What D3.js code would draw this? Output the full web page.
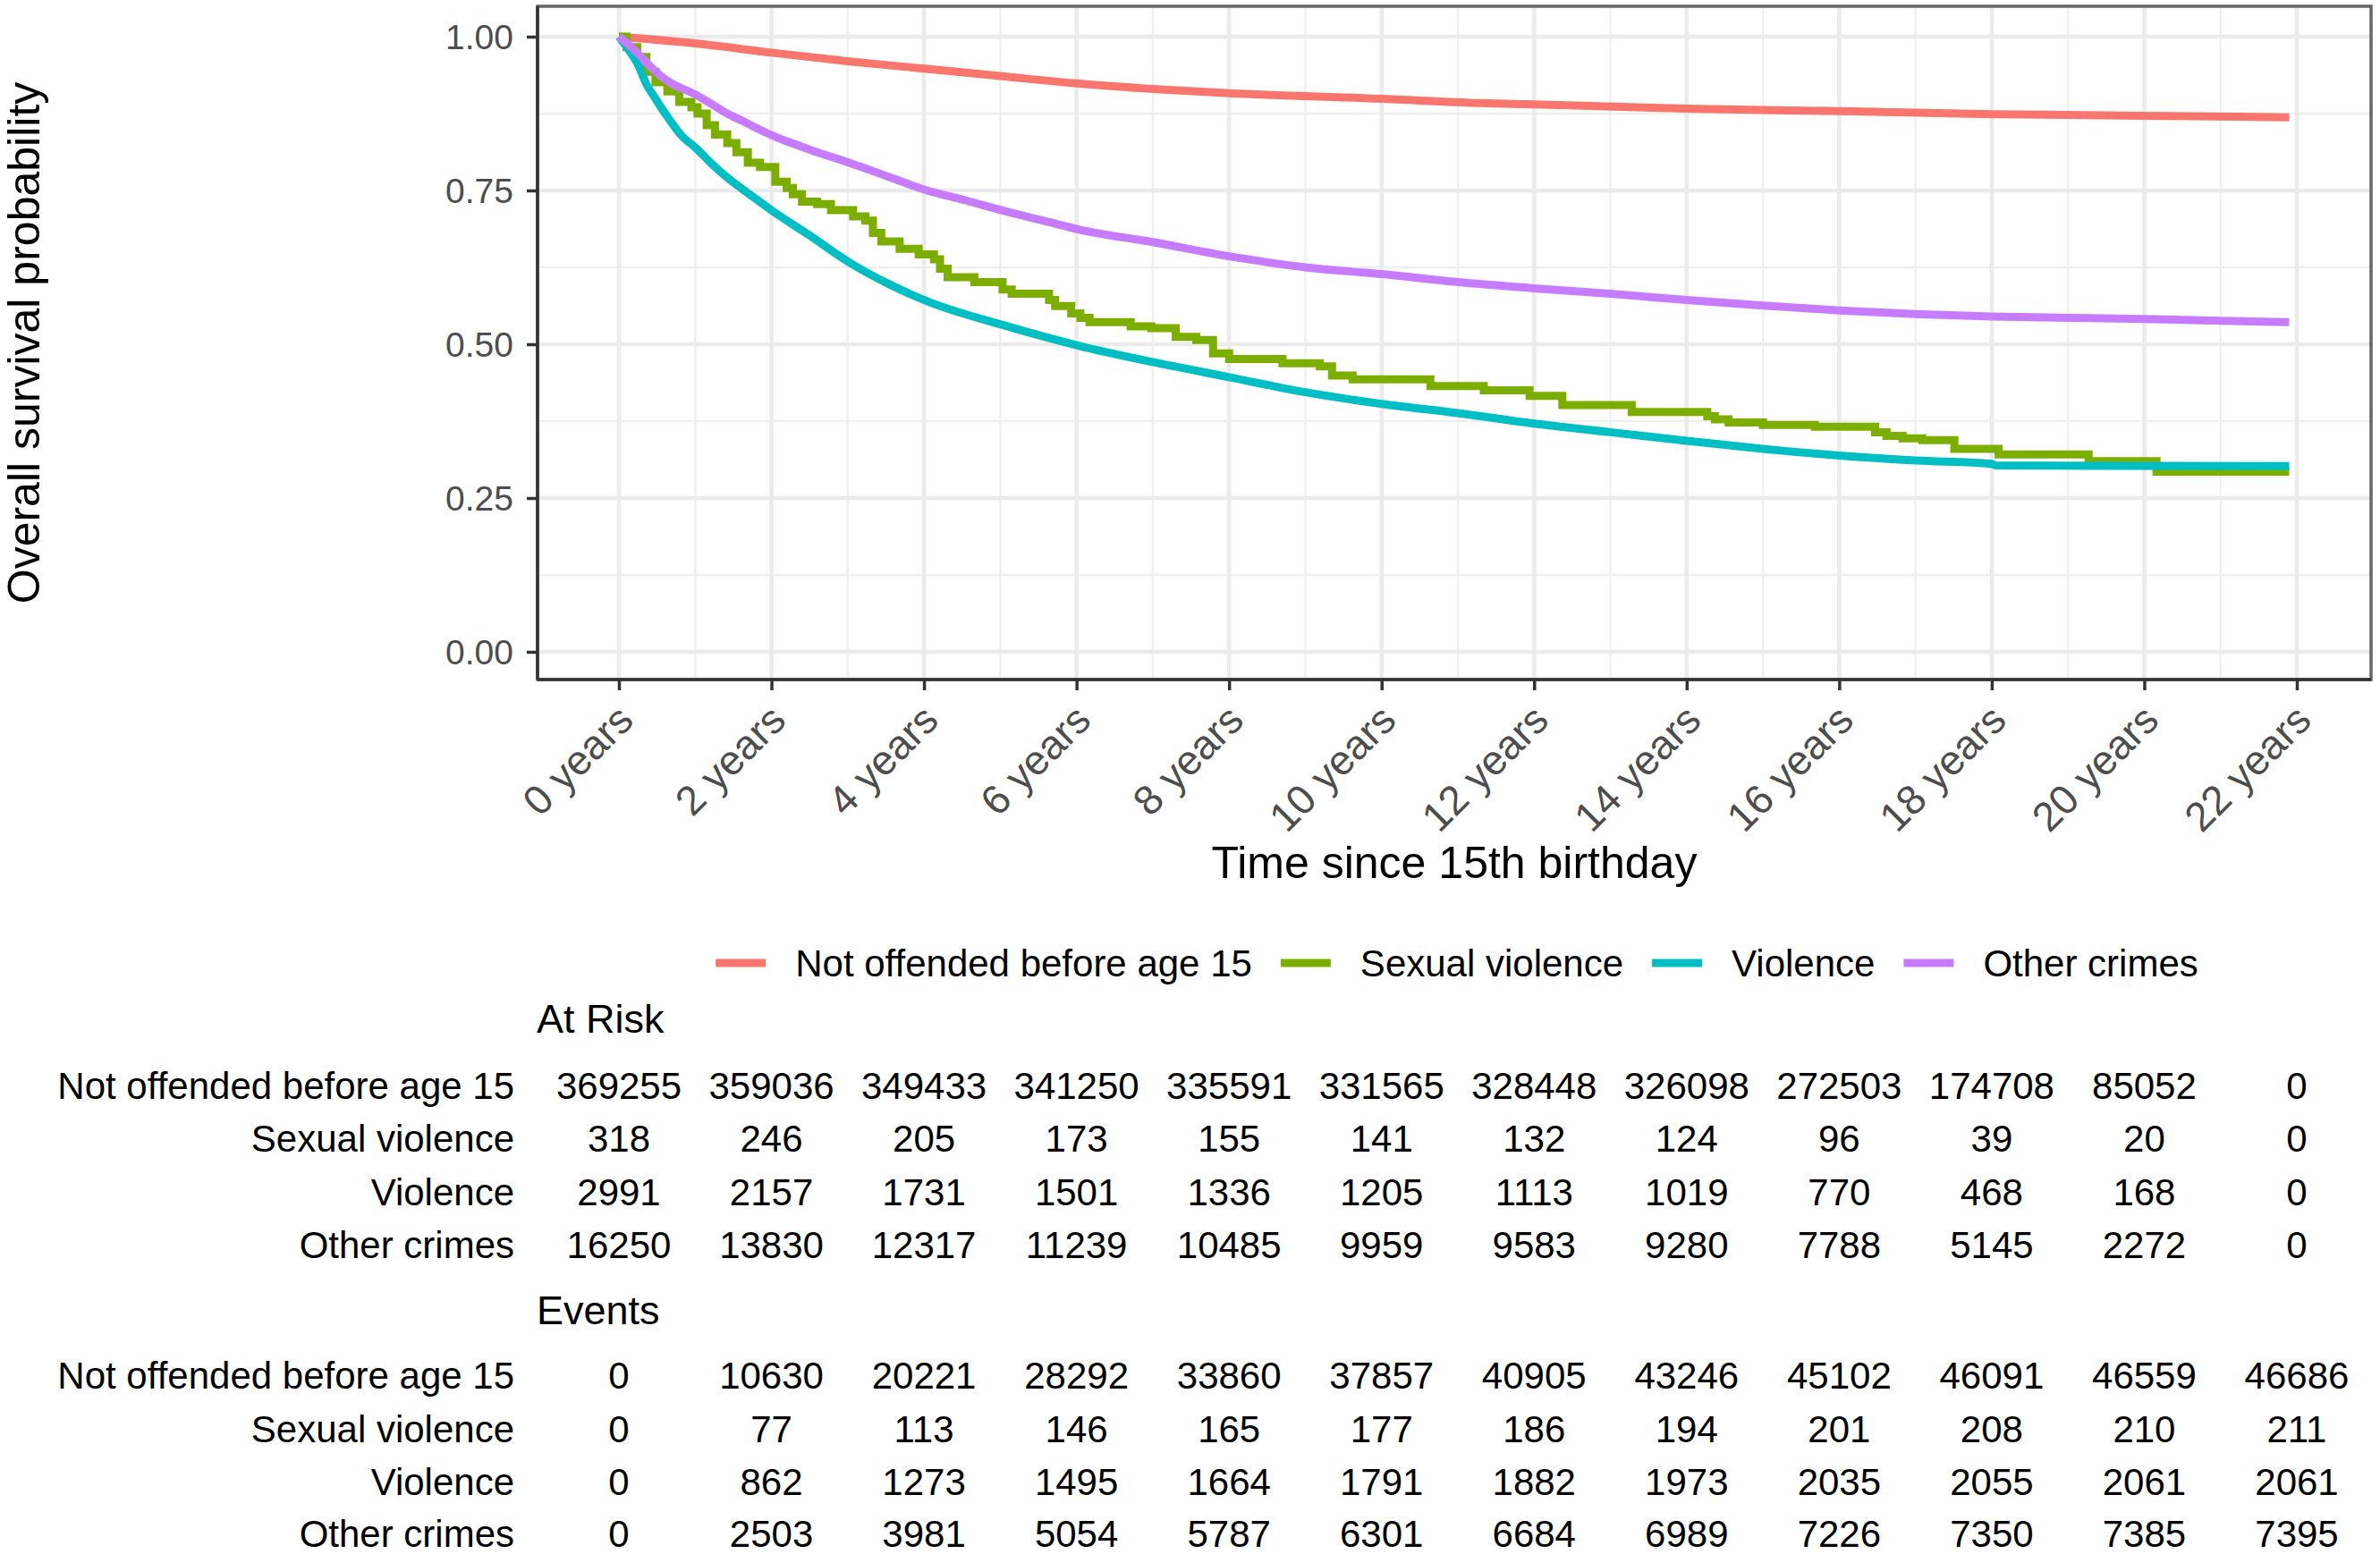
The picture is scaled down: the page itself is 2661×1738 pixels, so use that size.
<!DOCTYPE html>
<html>
<head>
<meta charset="utf-8">
<script src="https://cdn.jsdelivr.net/npm/d3@7/dist/d3.min.js"></script>
<style>
    body { margin: 0; background: #fff; overflow: hidden; }
    svg text { font-family: "Liberation Sans", Arial, sans-serif; }
</style>
</head>
<body>
<svg id="chart" width="2661" height="1738"></svg>
<script>

// DATA ========================================================================

var groups = ['Not offended before age 15', 'Sexual violence', 'Violence', 'Other crimes'];
var groupColors = ['#F8766D', '#7CAE00', '#00BFC4', '#C77CFF'];

// survival curves, [years, probability]
var notOffendedSurv = [[0, 1], [1, 0.989], [2, 0.974], [3, 0.960], [4, 0.948], [5, 0.936],
    [6, 0.924], [7, 0.915], [8, 0.908], [10, 0.899], [11.3, 0.892], [12, 0.890],
    [14, 0.883], [16, 0.879], [18, 0.874], [20, 0.8715], [21.9, 0.869]];

var sexualViolenceSurv = [[0, 1], [0.1, 0.983], [0.24, 0.967], [0.36, 0.943], [0.48, 0.926],
    [0.635, 0.911], [0.79, 0.894], [0.95, 0.885], [1.03, 0.875], [1.15, 0.856],
    [1.26, 0.841], [1.42, 0.827], [1.54, 0.812], [1.69, 0.795], [1.85, 0.788],
    [2.05, 0.764], [2.2, 0.754], [2.28, 0.744], [2.4, 0.732], [2.6, 0.728], [2.78, 0.718],
    [3.07, 0.708], [3.23, 0.701], [3.33, 0.681], [3.44, 0.667], [3.68, 0.655], [3.93, 0.646],
    [4.13, 0.638], [4.21, 0.623], [4.31, 0.609], [4.66, 0.601], [5.03, 0.589], [5.15, 0.582],
    [5.64, 0.572], [5.72, 0.562], [5.93, 0.550], [6.05, 0.543], [6.17, 0.536], [6.71, 0.529],
    [6.98, 0.526], [7.30, 0.512], [7.57, 0.507], [7.79, 0.485], [8.0, 0.476], [8.70, 0.469],
    [9.19, 0.464], [9.35, 0.449], [9.62, 0.443], [10.64, 0.432], [11.34, 0.425],
    [11.94, 0.416], [12.37, 0.401], [13.28, 0.390], [14.27, 0.383], [14.37, 0.378],
    [14.55, 0.373], [15.0, 0.369], [15.68, 0.366], [16.47, 0.357], [16.62, 0.351],
    [16.83, 0.347], [17.09, 0.344], [17.51, 0.330], [18.09, 0.321], [19.27, 0.310],
    [20.16, 0.293], [21.9, 0.293]];

var violenceSurv = [[0, 1], [0.125, 0.979], [0.24, 0.957], [0.36, 0.923], [0.48, 0.899],
    [0.635, 0.870], [0.83, 0.838], [1.0, 0.820], [1.22, 0.793], [1.42, 0.771],
    [1.62, 0.752], [1.81, 0.735], [2.02, 0.716], [2.5, 0.677], [3.02, 0.633], [3.52, 0.599],
    [4.04, 0.570], [5.04, 0.531], [6.05, 0.497], [7, 0.471], [8, 0.4465], [9, 0.422],
    [10, 0.403], [11, 0.388], [12, 0.371], [13, 0.357], [14, 0.343], [15, 0.330],
    [16, 0.319], [17, 0.311], [18, 0.3055], [18.05, 0.303], [21.9, 0.302]];

var otherCrimesSurv = [[0, 1], [0.24, 0.974], [0.44, 0.948], [0.635, 0.928], [1.0, 0.906],
    [1.22, 0.890], [1.42, 0.875], [1.62, 0.863], [1.81, 0.851], [2.0, 0.840], [2.2, 0.830],
    [2.4, 0.821], [2.6, 0.812], [3.02, 0.795], [3.52, 0.773], [4.04, 0.750],
    [4.54, 0.734], [5.04, 0.717], [5.56, 0.701], [6.05, 0.686], [7, 0.666], [8, 0.643],
    [9, 0.625], [10, 0.614], [11, 0.601], [12, 0.591], [13, 0.582], [14, 0.572],
    [15, 0.563], [16, 0.555], [17, 0.549], [18, 0.545], [19, 0.543], [20, 0.541],
    [21, 0.538], [21.9, 0.536]];

var curves = [notOffendedSurv, sexualViolenceSurv, violenceSurv, otherCrimesSurv];

var yearTicks = [0, 2, 4, 6, 8, 10, 12, 14, 16, 18, 20, 22];
var yearLabels = ['0 years', '2 years', '4 years', '6 years', '8 years', '10 years',
    '12 years', '14 years', '16 years', '18 years', '20 years', '22 years'];
var yearMinor = [1, 3, 5, 7, 9, 11, 13, 15, 17, 19, 21];
var probTicks = [0, 0.25, 0.5, 0.75, 1];
var probLabels = ['0.00', '0.25', '0.50', '0.75', '1.00'];
var probMinor = [0.125, 0.375, 0.625, 0.875];

// risk table, one value per year tick
var atRisk = [
    [369255, 359036, 349433, 341250, 335591, 331565, 328448, 326098, 272503, 174708, 85052, 0],
    [318, 246, 205, 173, 155, 141, 132, 124, 96, 39, 20, 0],
    [2991, 2157, 1731, 1501, 1336, 1205, 1113, 1019, 770, 468, 168, 0],
    [16250, 13830, 12317, 11239, 10485, 9959, 9583, 9280, 7788, 5145, 2272, 0]];
var events = [
    [0, 10630, 20221, 28292, 33860, 37857, 40905, 43246, 45102, 46091, 46559, 46686],
    [0, 77, 113, 146, 165, 177, 186, 194, 201, 208, 210, 211],
    [0, 862, 1273, 1495, 1664, 1791, 1882, 1973, 2035, 2055, 2061, 2061],
    [0, 2503, 3981, 5054, 5787, 6301, 6684, 6989, 7226, 7350, 7385, 7395]];


// PLOT ========================================================================

var svg = d3.select('#chart'),
    panel = {left: 601, right: 2651, top: 7, bottom: 760};

var x = d3.scaleLinear().domain([0, 22]).range([692, 2568]),
    y = d3.scaleLinear().domain([0, 1]).range([729, 41]);

svg.append('rect')
    .attr('width', 2661).attr('height', 1738).attr('fill', '#fff');

var grid = svg.append('g');

grid.selectAll('.vminor').data(yearMinor).enter().append('line')
    .attr('x1', function(d) { return x(d); }).attr('x2', function(d) { return x(d); })
    .attr('y1', panel.top).attr('y2', panel.bottom)
    .attr('stroke', '#EFEFEF').attr('stroke-width', 2.3);
grid.selectAll('.hminor').data(probMinor).enter().append('line')
    .attr('y1', function(d) { return y(d); }).attr('y2', function(d) { return y(d); })
    .attr('x1', panel.left).attr('x2', panel.right)
    .attr('stroke', '#EFEFEF').attr('stroke-width', 2.3);
grid.selectAll('.vmajor').data(yearTicks).enter().append('line')
    .attr('x1', function(d) { return x(d); }).attr('x2', function(d) { return x(d); })
    .attr('y1', panel.top).attr('y2', panel.bottom)
    .attr('stroke', '#EBEBEB').attr('stroke-width', 4.5);
grid.selectAll('.hmajor').data(probTicks).enter().append('line')
    .attr('y1', function(d) { return y(d); }).attr('y2', function(d) { return y(d); })
    .attr('x1', panel.left).attr('x2', panel.right)
    .attr('stroke', '#EBEBEB').attr('stroke-width', 4.5);

var stepLine = d3.line()
    .x(function(d) { return x(d[0]); })
    .y(function(d) { return y(d[1]); })
    .curve(d3.curveStepAfter);
var smoothLine = d3.line()
    .x(function(d) { return x(d[0]); })
    .y(function(d) { return y(d[1]); })
    .curve(d3.curveMonotoneX);

svg.append('g').selectAll('path')
    .data(curves)
    .enter().append('path')
        .attr('d', function(d, i) { return i === 1 ? stepLine(d) : smoothLine(d); })
        .attr('fill', 'none')
        .attr('stroke', function(d, i) { return groupColors[i]; })
        .attr('stroke-width', 9)
        .attr('stroke-linejoin', 'miter');

// panel border
svg.append('rect')
    .attr('x', panel.left).attr('y', panel.top)
    .attr('width', panel.right - panel.left).attr('height', panel.bottom - panel.top)
    .attr('fill', 'none').attr('stroke', '#666').attr('stroke-width', 3.5);

// AXES ========================================================================

var xAxis = svg.append('g')
    .attr('transform', 'translate(0,' + panel.bottom + ')')
    .call(d3.axisBottom(x).tickValues(yearTicks).tickSize(12)
        .tickFormat(function(d, i) { return yearLabels[i]; }));
xAxis.select('.domain')
    .attr('d', 'M' + panel.left + ',0H' + panel.right)
    .attr('stroke', '#333').attr('stroke-width', 3.5);
xAxis.selectAll('.tick line').attr('stroke', '#333').attr('stroke-width', 3.5);
xAxis.selectAll('.tick text')
    .attr('x', 0).attr('y', 0).attr('dy', null)
    .attr('transform', 'translate(18,48) rotate(-45)')
    .attr('text-anchor', 'end')
    .attr('font-size', 46)
    .attr('font-family', '"Liberation Sans", Arial, sans-serif')
    .attr('fill', '#4D4D4D');

var yAxis = svg.append('g')
    .attr('transform', 'translate(' + panel.left + ',0)')
    .call(d3.axisLeft(y).tickValues(probTicks).tickSize(12).tickPadding(15)
        .tickFormat(function(d, i) { return probLabels[i]; }));
yAxis.select('.domain')
    .attr('d', 'M0,' + panel.top + 'V' + panel.bottom)
    .attr('stroke', '#333').attr('stroke-width', 3.5);
yAxis.selectAll('.tick line').attr('stroke', '#333').attr('stroke-width', 3.5);
yAxis.selectAll('.tick text')
    .attr('dy', '0.35em')
    .attr('font-size', 39)
    .attr('font-family', '"Liberation Sans", Arial, sans-serif')
    .attr('fill', '#4D4D4D');

svg.append('text')
    .attr('transform', 'translate(44,' + ((panel.top + panel.bottom) / 2) + ') rotate(-90)')
    .attr('text-anchor', 'middle')
    .attr('font-size', 50)
    .text('Overall survival probability');

svg.append('text')
    .attr('x', (panel.left + panel.right) / 2).attr('y', 982)
    .attr('text-anchor', 'middle')
    .attr('font-size', 50)
    .text('Time since 15th birthday');

// LEGEND ======================================================================

var legend = svg.append('g'),
    keyLen = 56, keyGap = 33, itemGap = 32, cursor = 0;

var items = legend.selectAll('.item').data(groups).enter().append('g');
items.append('line')
    .attr('x1', 0).attr('x2', keyLen).attr('y1', 1077).attr('y2', 1077)
    .attr('stroke', function(d, i) { return groupColors[i]; })
    .attr('stroke-width', 9);
items.append('text')
    .attr('x', keyLen + keyGap).attr('y', 1077).attr('dy', '0.35em')
    .attr('font-size', 42)
    .text(function(d) { return d; });

items.each(function() {
    var g = d3.select(this),
        w = g.select('text').node().getComputedTextLength();
    g.attr('transform', 'translate(' + cursor + ',0)');
    cursor += keyLen + keyGap + w + itemGap;
});
cursor -= itemGap;
legend.attr('transform', 'translate(' + ((panel.left + panel.right) / 2 - cursor / 2 + 3) + ',0)');

// RISK TABLE ==================================================================

function drawTable(title, titleY, rows, rowYs) {
    svg.append('text')
        .attr('x', panel.left - 1).attr('y', titleY).attr('dy', '0.35em')
        .attr('font-size', 45)
        .text(title);

    rows.forEach(function(row, r) {
        svg.append('text')
            .attr('x', 575).attr('y', rowYs[r]).attr('dy', '0.35em')
            .attr('text-anchor', 'end')
            .attr('font-size', 42)
            .text(groups[r]);

        svg.append('g').selectAll('text')
            .data(row)
            .enter().append('text')
                .attr('x', function(d, i) { return x(yearTicks[i]); })
                .attr('y', rowYs[r]).attr('dy', '0.35em')
                .attr('text-anchor', 'middle')
                .attr('font-size', 42)
                .text(function(d) { return d; });
    });
}

drawTable('At Risk', 1139, atRisk, [1214, 1273, 1333, 1392]);
drawTable('Events', 1465, events, [1538, 1598, 1657, 1715]);

</script>
</body>
</html>
